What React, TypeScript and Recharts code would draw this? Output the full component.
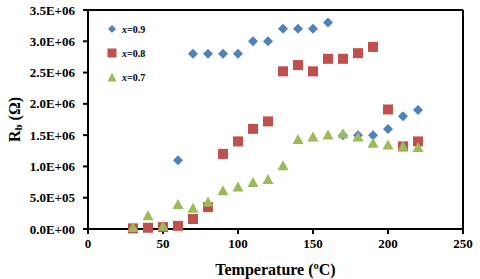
import React from "react";
import {
  ScatterChart,
  Scatter,
  XAxis,
  YAxis,
  Legend,
  Label,
  ReferenceLine,
} from "recharts";

// temperatures (ºC)
const tempsAll = [30, 40, 50, 60, 70, 80, 90, 100, 110, 120, 130, 140, 150, 160, 170, 180, 190, 200, 210, 220];
const temps09 = [60, 70, 80, 90, 100, 110, 120, 130, 140, 150, 160, 170, 180, 190, 200, 210, 220];

// Rb values (Ω)
const rb09 = [1.1e6, 2.8e6, 2.8e6, 2.8e6, 2.8e6, 3.0e6, 3.0e6, 3.2e6, 3.2e6, 3.2e6, 3.3e6, 1.5e6, 1.5e6, 1.5e6, 1.6e6, 1.8e6, 1.9e6];
const rb08 = [0.01e6, 0.02e6, 0.03e6, 0.05e6, 0.16e6, 0.35e6, 1.2e6, 1.4e6, 1.6e6, 1.72e6, 2.52e6, 2.62e6, 2.52e6, 2.72e6, 2.72e6, 2.81e6, 2.91e6, 1.91e6, 1.32e6, 1.4e6];
const rb07 = [0.03e6, 0.22e6, 0.05e6, 0.4e6, 0.34e6, 0.44e6, 0.62e6, 0.68e6, 0.75e6, 0.8e6, 1.02e6, 1.44e6, 1.48e6, 1.51e6, 1.53e6, 1.48e6, 1.38e6, 1.35e6, 1.33e6, 1.31e6];

const xTicks = [0, 50, 100, 150, 200, 250];
const yTicks = [0, 0.5e6, 1.0e6, 1.5e6, 2.0e6, 2.5e6, 3.0e6, 3.5e6];

const seriesNames = ["0.9", "0.8", "0.7"];
const BLUE = "#4F81BD";
const RED = "#C0504D";
const GREEN = "#9BBB59";

const d09 = temps09.map((t, i) => ({ t, r: rb09[i] }));
const d08 = tempsAll.map((t, i) => ({ t, r: rb08[i] }));
const d07 = tempsAll.map((t, i) => ({ t, r: rb07[i] }));

const FONT = "'Liberation Serif', 'Times New Roman', serif";

const fmtSci = (v: number) => {
  if (v === 0) return "0.0E+00";
  const e = Math.floor(Math.log10(v) + 1e-9);
  const m = v / Math.pow(10, e);
  return m.toFixed(1) + "E+" + String(e).padStart(2, "0");
};

const diamond = (s: number) => (props: any) => {
  const { cx, cy } = props;
  return <path d={`M${cx},${cy - s}L${cx + s},${cy}L${cx},${cy + s}L${cx - s},${cy}Z`} fill={BLUE} />;
};
const square = (s: number) => (props: any) => {
  const { cx, cy } = props;
  return <rect x={cx - s} y={cy - s} width={2 * s} height={2 * s} fill={RED} />;
};
const triangle = (s: number) => (props: any) => {
  const { cx, cy } = props;
  return <path d={`M${cx},${cy - s}L${cx + s * 1.1},${cy + s}L${cx - s * 1.1},${cy + s}Z`} fill={GREEN} />;
};

const legendIcons = [
  <path d="M6,2L10,6L6,10L2,6Z" fill={BLUE} />,
  <rect x={1.5} y={1.5} width={9} height={9} fill={RED} />,
  <path d="M6,1.5L10.5,10.5L1.5,10.5Z" fill={GREEN} />,
];

const renderLegend = () => (
  <div style={{ fontFamily: FONT, fontWeight: "bold", fontSize: 10 }}>
    {seriesNames.map((n, i) => (
      <div key={n} style={{ display: "flex", alignItems: "center", height: 24 }}>
        <svg width={12} height={12} style={{ marginRight: 4 }}>{legendIcons[i]}</svg>
        <span><i>x</i>={n}</span>
      </div>
    ))}
  </div>
);

const YLabel = (props: any) => {
  const vb = props.viewBox || {};
  const cx = 14;
  const cy = vb.y + vb.height / 2;
  return (
    <text
      x={cx}
      y={cy}
      transform={`rotate(-90, ${cx}, ${cy})`}
      textAnchor="middle"
      dominantBaseline="central"
      fontFamily={FONT}
      fontWeight="bold"
      fontSize={16}
      fill="#000"
    >
      R<tspan fontSize={11} dy={4}>b</tspan>
      <tspan dy={-4}> (Ω)</tspan>
    </text>
  );
};

export default function App() {
  return (
    <div style={{ position: "absolute", left: 0, top: 0, background: "#fff" }}>
      <ScatterChart width={480} height={279} margin={{ top: 10, right: 17, bottom: 0, left: 0 }}>
        <XAxis
          dataKey="t"
          type="number"
          domain={[0, 250]}
          ticks={xTicks}
          height={50}
          stroke="#000"
          strokeWidth={2}
          tickSize={5}
          tickMargin={5}
          tick={{ fontFamily: FONT, fontWeight: "bold", fontSize: 13, fill: "#000" }}
          label={{
            value: "Temperature (ºC)",
            position: "insideBottom",
            offset: 4,
            style: { fontFamily: FONT, fontWeight: "bold", fontSize: 16, fill: "#000" },
          }}
        />
        <YAxis
          dataKey="r"
          type="number"
          domain={[0, 3.5e6]}
          ticks={yTicks}
          width={88}
          stroke="#000"
          strokeWidth={2}
          tickSize={5}
          tickMargin={8}
          tickFormatter={fmtSci}
          tick={{ fontFamily: FONT, fontWeight: "bold", fontSize: 13, fill: "#000" }}
        >
          <Label content={<YLabel />} />
        </YAxis>
        <ReferenceLine y={3.5e6} stroke="#000" strokeWidth={2} ifOverflow="extendDomain" />
        <ReferenceLine x={250} stroke="#000" strokeWidth={2} ifOverflow="extendDomain" />
        <Legend
          layout="vertical"
          align="center"
          verticalAlign="middle"
          content={renderLegend}
          wrapperStyle={{ left: 106, top: 17, width: 60, height: 72 }}
        />
        <Scatter name="x=0.9" data={d09} shape={diamond(5)} isAnimationActive={false} />
        <Scatter name="x=0.8" data={d08} shape={square(5)} isAnimationActive={false} />
        <Scatter name="x=0.7" data={d07} shape={triangle(5)} isAnimationActive={false} />
      </ScatterChart>
    </div>
  );
}
